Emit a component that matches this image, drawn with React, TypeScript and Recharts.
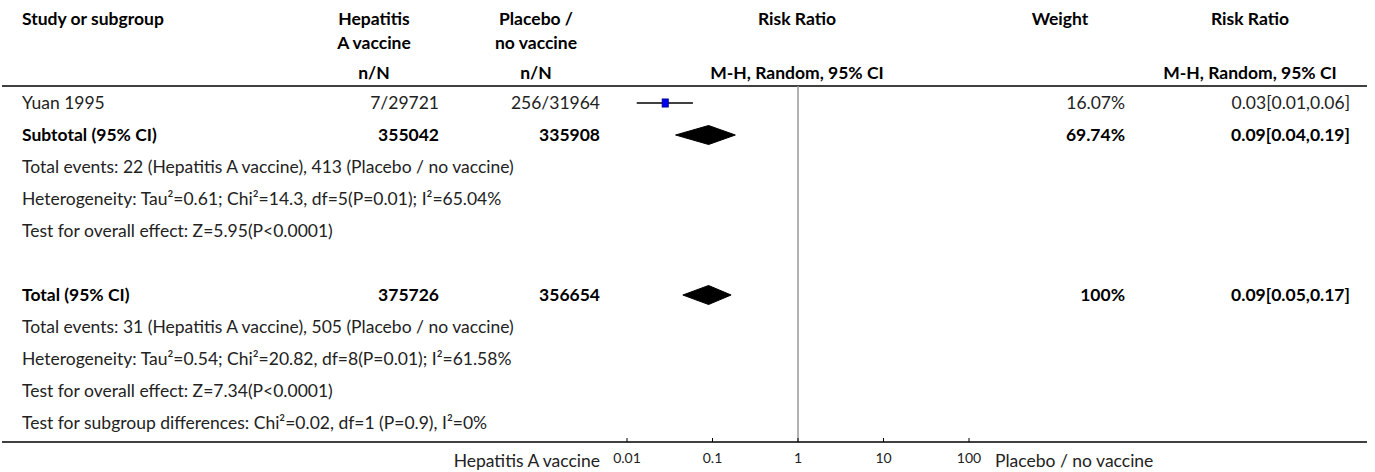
import React from "react";
import { Area, ComposedChart, ErrorBar, ReferenceLine, Scatter, XAxis, YAxis } from "recharts";

// single study shown in this crop
const studyNames = ["Yuan 1995"];
const studyVaccine = ["7/29721"];
const studyPlacebo = ["256/31964"];
const studyWeights = ["16.07%"];
const studyCiText = ["0.03[0.01,0.06]"];
const studyRR = [0.028];
const studyLow = [0.013];
const studyHigh = [0.059];

// pooled estimates (diamonds)
const pooledNames = ["Subtotal (95% CI)", "Total (95% CI)"];
const pooledVaccine = ["355042", "375726"];
const pooledPlacebo = ["335908", "356654"];
const pooledWeights = ["69.74%", "100%"];
const pooledCiText = ["0.09[0.04,0.19]", "0.09[0.05,0.17]"];
const pooledRR = [0.09, 0.09];
const pooledLow = [0.037, 0.045];
const pooledHigh = [0.185, 0.165];

const subtotalNotes = [
  "Total events: 22 (Hepatitis A vaccine), 413 (Placebo / no vaccine)",
  "Heterogeneity: Tau²=0.61; Chi²=14.3, df=5(P=0.01); I²=65.04%",
  "Test for overall effect: Z=5.95(P<0.0001)",
];
const totalNotes = [
  "Total events: 31 (Hepatitis A vaccine), 505 (Placebo / no vaccine)",
  "Heterogeneity: Tau²=0.54; Chi²=20.82, df=8(P=0.01); I²=61.58%",
  "Test for overall effect: Z=7.34(P<0.0001)",
  "Test for subgroup differences: Chi²=0.02, df=1 (P=0.9), I²=0%",
];

const rrTicks = [0.01, 0.1, 1, 10, 100];
const favoursLeft = "Hepatitis A vaccine";
const favoursRight = "Placebo / no vaccine";

// layout
const W = 1375;
const H = 472;
const PLOT_LEFT = 627;
const PLOT_RIGHT = 969;
const PLOT_TOP = 86;
const PLOT_BOTTOM = 442;
const LINE_END = 1367;
const FIRST_ROW = 103;
const ROW = 32;
const DIAMOND_HALF = 9.5 / ROW;
const FONT = "Lato, 'Noto Sans', sans-serif";
const FONT_SIZE = 17.5;

const rowY = (i: number) => FIRST_ROW + i * ROW;

// row indices
const studyRow = 0;
const subtotalRow = 1;
const totalRow = 6;
const pooledRows = [subtotalRow, totalRow];

// column anchors
const COL_STUDY = 22;
const COL_VAC = 439;
const COL_VAC_HEAD = 374;
const COL_PLA = 600;
const COL_PLA_HEAD = 536;
const COL_RR_HEAD = 797;
const COL_WT = 1125;
const COL_WT_HEAD = 1060;
const COL_CI = 1350;
const COL_CI_HEAD = 1250;

const studyData = studyNames.map((name, i) => ({
  name,
  rr: studyRR[i],
  row: studyRow + i,
  err: [studyRR[i] - studyLow[i], studyHigh[i] - studyRR[i]],
}));

const diamondData = pooledNames.map((_, i) => {
  const r = pooledRows[i];
  return [
    { rr: pooledLow[i], band: [r, r] },
    { rr: pooledRR[i], band: [r - DIAMOND_HALF, r + DIAMOND_HALF] },
    { rr: pooledHigh[i], band: [r, r] },
  ];
});

type CellProps = {
  x: number;
  y: number;
  align?: "left" | "right" | "center";
  bold?: boolean;
  children: React.ReactNode;
};

function Cell({ x, y, align = "left", bold, children }: CellProps) {
  const box = 400;
  const left = align === "left" ? x : align === "right" ? x - box : x - box / 2;
  return (
    <div
      style={{
        position: "absolute",
        left,
        top: y - 10,
        width: align === "left" ? undefined : box,
        whiteSpace: "nowrap",
        textAlign: align,
        lineHeight: "20px",
        fontSize: FONT_SIZE,
        fontWeight: bold ? 700 : 400,
        color: bold ? "#000" : "#222",
      }}
    >
      {children}
    </div>
  );
}

function RRTick(props: any) {
  const { x, y, payload } = props;
  return (
    <g>
      <line x1={x} x2={x} y1={y - 4} y2={y} stroke="#000" strokeWidth={1} />
      <text x={x} y={y + 21} textAnchor="middle" fontSize={14} fill="#222" fontFamily={FONT}>
        {String(payload.value)}
      </text>
    </g>
  );
}

const Square = (props: any) => {
  const { cx, cy } = props;
  return <rect x={cx - 3} y={cy - 4} width={6} height={8} fill="#0000ff" stroke="#00008b" strokeWidth={1} />;
};

export default function App() {
  return (
    <div style={{ position: "relative", width: W, height: H, fontFamily: FONT, background: "#fff" }}>
      <style>{"body{margin:0}"}</style>

      <svg width={W} height={H} style={{ position: "absolute", left: 0, top: 0 }}>
        <line x1={2} x2={LINE_END} y1={PLOT_TOP} y2={PLOT_TOP} stroke="#000" strokeWidth={1.5} />
        <line x1={2} x2={PLOT_LEFT} y1={PLOT_BOTTOM} y2={PLOT_BOTTOM} stroke="#000" strokeWidth={1.5} />
        <line x1={PLOT_RIGHT} x2={LINE_END} y1={PLOT_BOTTOM} y2={PLOT_BOTTOM} stroke="#000" strokeWidth={1.5} />
      </svg>

      <div style={{ position: "absolute", left: 0, top: 0 }}>
        <ComposedChart
          width={W}
          height={H}
          margin={{ top: PLOT_TOP, right: W - PLOT_RIGHT, bottom: 0, left: PLOT_LEFT }}
        >
          <XAxis
            dataKey="rr"
            type="number"
            scale="log"
            domain={[0.01, 100]}
            ticks={rrTicks}
            interval={0}
            allowDataOverflow
            height={H - PLOT_BOTTOM}
            axisLine={{ stroke: "#000", strokeWidth: 1.5 }}
            tickLine={false}
            tickSize={0}
            tickMargin={0}
            tick={<RRTick />}
          />
          <YAxis
            type="number"
            hide
            width={0}
            reversed
            domain={[-(FIRST_ROW - PLOT_TOP) / ROW, (PLOT_BOTTOM - FIRST_ROW) / ROW]}
            allowDataOverflow
          />
          <ReferenceLine x={1} stroke="#999" strokeWidth={1.5} />
          {diamondData.map((d, i) => (
            <Area
              key={i}
              data={d}
              dataKey="band"
              type="linear"
              fill="#000"
              fillOpacity={1}
              stroke="#000"
              strokeWidth={1}
              dot={false}
              activeDot={false}
              isAnimationActive={false}
            />
          ))}
          <Scatter data={studyData} dataKey="row" shape={<Square />} isAnimationActive={false}>
            <ErrorBar dataKey="err" direction="x" width={0} stroke="#000" strokeWidth={1.3} />
          </Scatter>
        </ComposedChart>
      </div>

      {/* header */}
      <Cell x={COL_STUDY} y={19} bold>Study or subgroup</Cell>
      <Cell x={COL_VAC_HEAD} y={19} align="center" bold>Hepatitis</Cell>
      <Cell x={COL_VAC_HEAD} y={43} align="center" bold>A vaccine</Cell>
      <Cell x={COL_PLA_HEAD} y={19} align="center" bold>Placebo /</Cell>
      <Cell x={COL_PLA_HEAD} y={43} align="center" bold>no vaccine</Cell>
      <Cell x={COL_RR_HEAD} y={19} align="center" bold>Risk Ratio</Cell>
      <Cell x={COL_WT_HEAD} y={19} align="center" bold>Weight</Cell>
      <Cell x={COL_CI_HEAD} y={19} align="center" bold>Risk Ratio</Cell>
      <Cell x={COL_VAC_HEAD} y={73} align="center" bold>n/N</Cell>
      <Cell x={COL_PLA_HEAD} y={73} align="center" bold>n/N</Cell>
      <Cell x={COL_RR_HEAD} y={73} align="center" bold>M-H, Random, 95% CI</Cell>
      <Cell x={COL_CI_HEAD} y={73} align="center" bold>M-H, Random, 95% CI</Cell>

      {studyNames.map((name, i) => (
        <React.Fragment key={name}>
          <Cell x={COL_STUDY} y={rowY(studyRow + i)}>{name}</Cell>
          <Cell x={COL_VAC} y={rowY(studyRow + i)} align="right">{studyVaccine[i]}</Cell>
          <Cell x={COL_PLA} y={rowY(studyRow + i)} align="right">{studyPlacebo[i]}</Cell>
          <Cell x={COL_WT} y={rowY(studyRow + i)} align="right">{studyWeights[i]}</Cell>
          <Cell x={COL_CI} y={rowY(studyRow + i)} align="right">{studyCiText[i]}</Cell>
        </React.Fragment>
      ))}

      {pooledNames.map((name, i) => (
        <React.Fragment key={name}>
          <Cell x={COL_STUDY} y={rowY(pooledRows[i])} bold>{name}</Cell>
          <Cell x={COL_VAC} y={rowY(pooledRows[i])} align="right" bold>{pooledVaccine[i]}</Cell>
          <Cell x={COL_PLA} y={rowY(pooledRows[i])} align="right" bold>{pooledPlacebo[i]}</Cell>
          <Cell x={COL_WT} y={rowY(pooledRows[i])} align="right" bold>{pooledWeights[i]}</Cell>
          <Cell x={COL_CI} y={rowY(pooledRows[i])} align="right" bold>{pooledCiText[i]}</Cell>
        </React.Fragment>
      ))}

      {subtotalNotes.map((t, i) => (
        <Cell key={t} x={COL_STUDY} y={rowY(subtotalRow + 1 + i)}>{t}</Cell>
      ))}
      {totalNotes.map((t, i) => (
        <Cell key={t} x={COL_STUDY} y={rowY(totalRow + 1 + i)}>{t}</Cell>
      ))}

      <Cell x={600} y={461} align="right">{favoursLeft}</Cell>
      <Cell x={995} y={461}>{favoursRight}</Cell>
    </div>
  );
}
